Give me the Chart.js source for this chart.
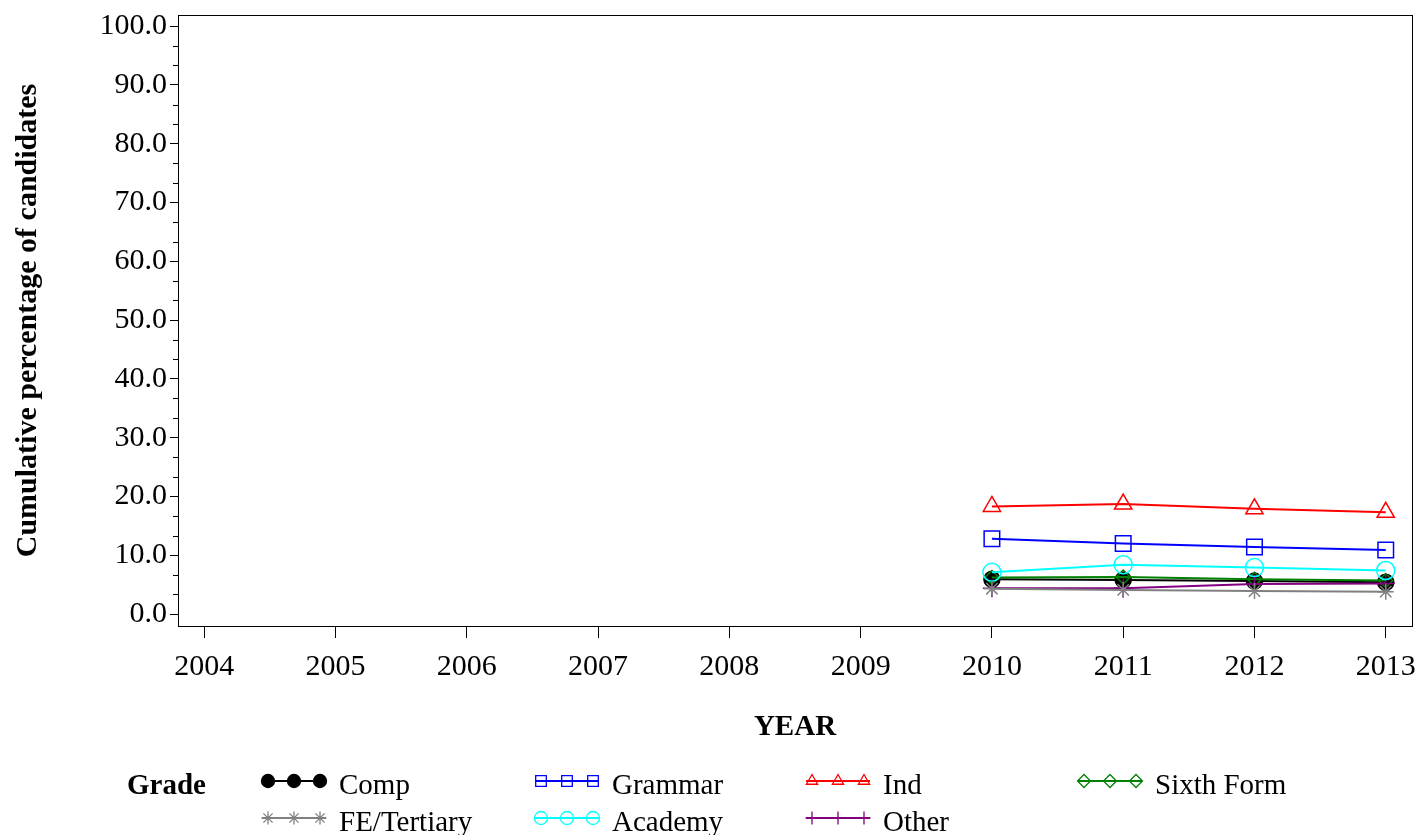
<!DOCTYPE html>
<html>
<head>
<meta charset="utf-8">
<script src="https://cdn.jsdelivr.net/npm/chart.js@4.4.1/dist/chart.umd.min.js"></script>
<style>
  body { margin: 0; background: #fff; }
</style>
</head>
<body>
<canvas id="chart" width="1420" height="835"></canvas>
<script>
var years = [2004, 2005, 2006, 2007, 2008, 2009, 2010, 2011, 2012, 2013];
var yTicks = [0, 10, 20, 30, 40, 50, 60, 70, 80, 90, 100];

var comp       = [null, null, null, null, null, null, 5.9, 5.8, 5.6, 5.4];
var grammar    = [null, null, null, null, null, null, 12.8, 12.0, 11.4, 10.9];
var ind        = [null, null, null, null, null, null, 18.3, 18.7, 17.9, 17.3];
var sixthForm  = [null, null, null, null, null, null, 6.2, 6.3, 5.9, 5.7];
var feTertiary = [null, null, null, null, null, null, 4.3, 4.1, 3.9, 3.8];
var academy    = [null, null, null, null, null, null, 7.1, 8.4, 7.9, 7.4];
var other      = [null, null, null, null, null, null, 4.4, 4.4, 5.1, 5.2];

var FONT = '"Liberation Serif", "Times New Roman", serif';

function pts(vals) {
  return years.map(function(y, i) { return { x: y, y: vals[i] }; });
}

// name, colour, marker, radius in plot, filled?
var series = [
  { label: 'Comp', data: comp, color: '#000000', style: 'circle', r: 8, fill: true },
  { label: 'Grammar', data: grammar, color: '#0000ff', style: 'rect', r: 11, fill: false },
  { label: 'Ind', data: ind, color: '#ff0000', style: 'triangle', r: 10, fill: false },
  { label: 'Sixth Form', data: sixthForm, color: '#008000', style: 'rectRot', r: 7, fill: false },
  { label: 'FE/Tertiary', data: feTertiary, color: '#808080', style: 'star', r: 8, fill: false },
  { label: 'Academy', data: academy, color: '#00ffff', style: 'circle', r: 9, fill: false },
  { label: 'Other', data: other, color: '#800080', style: 'cross', r: 9, fill: false }
];

var datasets = series.map(function(s) {
  return {
    label: s.label,
    data: pts(s.data),
    borderColor: s.color,
    backgroundColor: s.fill ? s.color : 'transparent',
    borderWidth: 2,
    pointStyle: s.style,
    pointRadius: s.r,
    pointBorderWidth: 1.5,
    pointBorderColor: s.color,
    pointBackgroundColor: s.fill ? s.color : 'transparent',
    tension: 0
  };
});
datasets[0].order = 2;
datasets[3].order = 1;

// stop tick labels from shrinking the plot area
function noPad(scale) {
  scale.paddingLeft = 0;
  scale.paddingRight = 0;
  scale.paddingTop = 0;
  scale.paddingBottom = 0;
}

var framePlugin = {
  id: 'frame',
  afterDraw: function(chart) {
    var ctx = chart.ctx, a = chart.chartArea;
    var ys = chart.scales.y;
    ctx.save();
    ctx.strokeStyle = '#000';
    ctx.lineWidth = 1;
    ctx.strokeRect(Math.round(a.left) + 0.5, Math.round(a.top) + 0.5,
      Math.round(a.right - a.left), Math.round(a.bottom - a.top));
    // minor y ticks
    for (var v = 0; v <= 100.01; v += 10 / 3) {
      if (Math.abs(v / 10 - Math.round(v / 10)) < 0.01) continue;
      var py = Math.round(ys.getPixelForValue(v)) + 0.5;
      ctx.beginPath();
      ctx.moveTo(a.left - 5, py);
      ctx.lineTo(a.left, py);
      ctx.stroke();
    }

    // legend
    ctx.font = 'bold 29px ' + FONT;
    ctx.fillStyle = '#000';
    ctx.textBaseline = 'middle';
    ctx.textAlign = 'left';
    ctx.fillText('Grade', 127, 787);
    var cols = [262, 535, 806, 1078];
    var rows = [781, 818];
    ctx.font = '29px ' + FONT;
    series.forEach(function(s, i) {
      var x0 = cols[i % 4], y0 = rows[Math.floor(i / 4)];
      ctx.strokeStyle = s.color;
      ctx.lineWidth = 2;
      ctx.beginPath();
      ctx.moveTo(x0, y0);
      ctx.lineTo(x0 + 64, y0);
      ctx.stroke();
      ctx.lineWidth = 1.3;
      [6, 32, 58].forEach(function(dx) {
        ctx.fillStyle = s.fill ? s.color : 'rgba(0,0,0,0)';
        Chart.helpers.drawPoint(ctx, {
          pointStyle: s.style,
          radius: s.fill ? 6.5 : (s.style === 'rect' ? 7.5 : 6.5),
          rotation: 0,
          borderWidth: 1.3
        }, x0 + dx, y0);
      });
      ctx.fillStyle = '#000';
      ctx.fillText(s.label, x0 + 77, y0 + 5);
    });
    ctx.restore();
  }
};

new Chart(document.getElementById('chart'), {
  type: 'line',
  data: { datasets: datasets },
  plugins: [framePlugin],
  options: {
    responsive: false,
    animation: false,
    layout: { autoPadding: false, padding: { top: 15, right: 8, bottom: 90, left: 0 } },
    plugins: { legend: { display: false }, tooltip: { enabled: false } },
    scales: {
      x: {
        type: 'linear',
        min: 2003.8,
        max: 2013.2,
        afterBuildTicks: function(scale) {
          scale.ticks = years.map(function(y) { return { value: y }; });
        },
        afterFit: function(scale) { scale.height = 119; noPad(scale); },
        border: { display: true, color: '#000', width: 1 },
        grid: { drawOnChartArea: false, drawTicks: true, tickLength: 12, tickColor: '#000' },
        ticks: {
          color: '#000',
          font: { family: FONT, size: 30 },
          padding: 11,
          maxRotation: 0,
          callback: function(v) { return String(v); }
        },
        title: {
          display: true,
          text: 'YEAR',
          color: '#000',
          font: { family: FONT, size: 29, weight: 'bold' },
          padding: { top: 0, bottom: 0 }
        }
      },
      y: {
        type: 'linear',
        min: -2.04,
        max: 101.9,
        afterBuildTicks: function(scale) {
          scale.ticks = yTicks.map(function(v) { return { value: v }; });
        },
        afterFit: function(scale) { scale.width = 178; noPad(scale); },
        border: { display: true, color: '#000', width: 1 },
        grid: { drawOnChartArea: false, drawTicks: true, tickLength: 8, tickColor: '#000' },
        ticks: {
          color: '#000',
          font: { family: FONT, size: 30 },
          padding: 3,
          callback: function(v) { return v.toFixed(1); }
        },
        title: {
          display: true,
          text: 'Cumulative percentage of candidates',
          color: '#000',
          font: { family: FONT, size: 30, weight: 'bold' },
          padding: { top: 10, bottom: 0 }
        }
      }
    }
  }
});
</script>
</body>
</html>
